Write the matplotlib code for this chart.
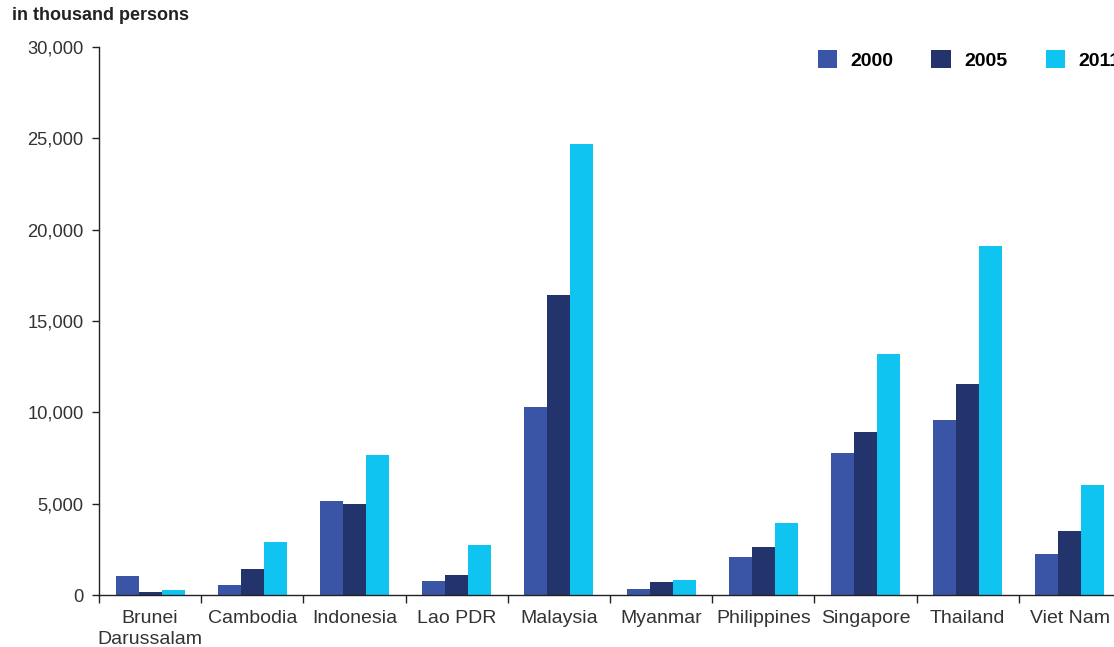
import matplotlib.pyplot as plt
import numpy as np
from matplotlib.ticker import FuncFormatter, FixedLocator

plt.rcParams['font.family'] = ['Liberation Sans', 'DejaVu Sans']

# dados (mil pessoas)
paises = ['Brunei\nDarussalam', 'Cambodia', 'Indonesia', 'Lao PDR', 'Malaysia',
          'Myanmar', 'Philippines', 'Singapore', 'Thailand', 'Viet Nam']
anos = ['2000', '2005', '2011']
v2000 = [1040, 550, 5130, 780, 10290, 330, 2060, 7760, 9560, 2230]
v2005 = [150, 1440, 5000, 1110, 16420, 700, 2640, 8940, 11530, 3490]
v2011 = [260, 2880, 7660, 2740, 24700, 840, 3920, 13170, 19100, 6000]
cores = ['#3a55a6', '#23336c', '#10c4f1']

W, H = 1114, 647
fig = plt.figure(figsize=(W / 100, H / 100), dpi=100)
# o eixo continua além da borda direita (imagem cortada)
ax = fig.add_axes([99 / W, 52 / H, 1022 / W, 548 / H])

x = np.arange(len(paises))
w = 0.225
for i, (vals, ano) in enumerate(zip([v2000, v2005, v2011], anos)):
    ax.bar(x + (i - 1) * w, vals, width=w, color=cores[i], label=ano)

ax.set_xlim(-0.5, len(paises) - 0.5)
ax.set_ylim(0, 30000)
ax.set_yticks(range(0, 30001, 5000))
ax.yaxis.set_major_formatter(FuncFormatter(lambda v, p: f'{int(v):,}'))

ax.set_xticks(x)
ax.set_xticklabels(paises, fontsize=14, color='#333333', linespacing=1.3)
ax.tick_params(axis='x', which='major', length=0, pad=11)
ax.xaxis.set_minor_locator(FixedLocator(np.arange(-0.5, len(paises), 1.0)))
ax.tick_params(axis='x', which='minor', length=6, width=1, color='#222222')
ax.tick_params(axis='y', length=5, width=1, color='#222222', labelsize=13.2,
               labelcolor='#333333', pad=6)

for s in ['top', 'right']:
    ax.spines[s].set_visible(False)
for s in ['left', 'bottom']:
    ax.spines[s].set_color('#222222')
    ax.spines[s].set_linewidth(1)

fig.text(12 / W, 1 - 16 / H, 'in thousand persons', fontsize=13,
         fontweight='bold', color='#222222', va='center', ha='left')

fig.legend(loc='upper left', bbox_to_anchor=(800 / W, 1 - 33 / H), ncol=3,
           frameon=False, handlelength=1.0, handleheight=1.0, handletextpad=0.7,
           columnspacing=1.95, prop={'weight': 'bold', 'size': 14})

fig.savefig('out.png', dpi=100)
